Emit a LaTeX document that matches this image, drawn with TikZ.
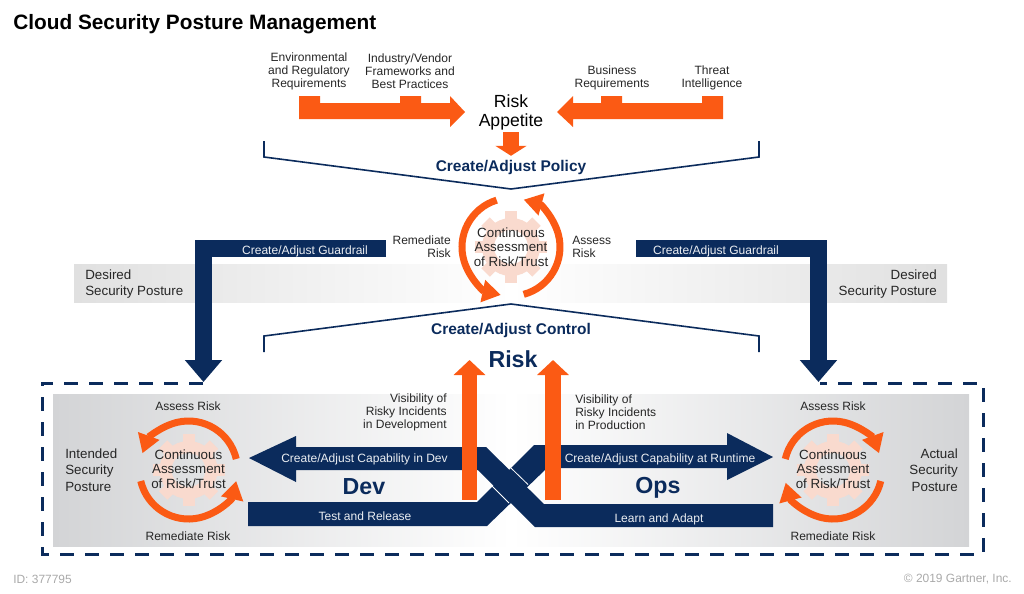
\documentclass[tikz,border=0pt]{standalone}
\usepackage{xcolor}
\usepackage{fontspec}
\setmainfont{Liberation Sans}
\usetikzlibrary{arrows.meta}
\definecolor{gnavy}{HTML}{0B2B5C}
\definecolor{gorange}{HTML}{FB5A14}
\definecolor{gsalmon}{HTML}{F9DACE}
\definecolor{gband}{HTML}{E0E0E0}
\definecolor{gpanel}{HTML}{D3D4D6}
\definecolor{gtext}{HTML}{262626}
\definecolor{gfoot}{HTML}{A9A9A9}
\tikzset{
    gearmark/.pic={
        \draw[gearpart] (0,0) circle (23);
        \foreach \a in {0,45,...,315} \draw[gearpart] (\a:23) -- (\a:36);
    }
}

\begin{document}
\begin{tikzpicture}[
        x=0.025cm, y=-0.025cm,
        every node/.style={font=\fontsize{8.55}{9.3}\selectfont, text=gtext, align=center, inner sep=0pt},
        gearpart/.style={draw=gsalmon, line width=0.3cm},
        bracket/.style={draw=gnavy, line width=0.04cm},
        blockfill/.style={fill=gnavy},
        combfill/.style={fill=gorange},
        barlabel/.style={text=white!92!gnavy},
        headline/.style={font=\bfseries\fontsize{11}{13}\selectfont, text=gnavy},
        bigword/.style={font=\bfseries\fontsize{16.5}{19}\selectfont, text=gnavy},
        cyclelabel/.style={font=\fontsize{9.5}{10.3}\selectfont},
        posture/.style={font=\fontsize{9.5}{11.7}\selectfont},
        footnote/.style={font=\fontsize{8.5}{10}\selectfont, text=gfoot},
        guardflow/.style={draw=gnavy, line width=0.425cm, -{Triangle[length=0.55cm,width=0.9cm]}},
        riskflow/.style={draw=gorange, line width=0.39cm, -{Triangle[length=0.375cm,width=0.775cm]}},
        cyclearc/.style={draw=gorange, line width=0.175cm, -{Triangle[length=0.46cm,width=0.54cm]}}
    ]
        \useasboundingbox (0,0) rectangle (1024,593);

        % Bands
        \shade[left color=gband, right color=white] (74,264) rectangle (511,302);
        \shade[left color=white, right color=gband] (511,264) rectangle (947,302);
        \shade[left color=gpanel, right color=gpanel, middle color=white] (53,394) rectangle (969,546);

        % Top
        \node (title) [anchor=west, font=\bfseries\fontsize{14.8}{17}\selectfont, text=black] at (13,24) {Cloud Security Posture Management};
        \node (environ) at (309,71) {Environmental\\and Regulatory\\Requirements};
        \node (vendor) at (410,71) {Industry/Vendor\\Frameworks and\\Best Practices};
        \node (business) at (612,78) {Business\\Requirements};
        \node (threat) at (712,78) {Threat\\Intelligence};
        \node (appetite) [font=\fontsize{12.5}{13.5}\selectfont, text=black] at (511,112) {Risk\\Appetite};
        \node (policy) [headline] at (511,167.5) {Create/Adjust Policy};

        \fill[combfill] (299,96) -- (320,96) -- (320,103) -- (400,103) -- (400,96) -- (421,96) -- (421,103) -- (450,103) -- (450,96) -- (465,112) -- (450,127) -- (450,119) -- (299,119) -- cycle;
        \fill[combfill] (723,96) -- (702,96) -- (702,103) -- (622,103) -- (622,96) -- (601,96) -- (601,103) -- (573,103) -- (573,96) -- (557,112) -- (573,127) -- (573,119) -- (723,119) -- cycle;
        \draw[bracket] (264,141) -- (264,157) -- (511,189) -- (759,157) -- (759,141);

        % Middle
        \pic (gearmid) at (511,247) {gearmark};
        \node (cyclemid) [cyclelabel] at (511,247) {Continuous\\Assessment\\of Risk/Trust};
        \node (remedmid) [anchor=east, align=right] at (451,246.5) {Remediate\\Risk};
        \node (assessmid) [anchor=west, align=left] at (572,246.5) {Assess\\Risk};
        \draw[cyclearc, shift={(511,247)}, yscale=-1] (107:49) arc (107:258:49);
        \draw[cyclearc, shift={(511,247)}, yscale=-1] (-75:49) arc (-75:75:49);

        \node (desiredl) [anchor=west, align=left, font=\fontsize{9.5}{11.3}\selectfont] at (85,284) {Desired\\Security Posture};
        \node (desiredr) [anchor=east, align=right, font=\fontsize{9.5}{11.3}\selectfont] at (937,284) {Desired\\Security Posture};

        \coordinate (guardlstart) at (386,248.5);
        \coordinate (guardlend) at (203.5,382);
        \coordinate (guardrstart) at (636,248.5);
        \coordinate (guardrend) at (818.5,382);
        \draw[guardflow] (guardlstart) -| (guardlend);
        \draw[guardflow] (guardrstart) -| (guardrend);
        \node (guardl) [barlabel] at (305,251) {Create/Adjust Guardrail};
        \node (guardr) [barlabel] at (716,251) {Create/Adjust Guardrail};

        \draw[bracket] (264,352) -- (264,336) -- (511,304) -- (759,336) -- (759,352);
        \node (control) [headline] at (511,330) {Create/Adjust Control};
        \node (risk) [bigword] at (513,359.5) {Risk};

        % Bottom frame
        \draw[draw=gnavy, line width=0.075cm, dash pattern=on 0.35cm off 0.275cm] (203,383) -- (42,383) -- (42,554) -- (983,554) -- (983,383) -- (820,383);

        % Crossing bars
        \fill[blockfill] (248,502) -- (477,502) -- (534,445) -- (727,445) -- (727,433) -- (773,457) -- (727,480) -- (727,468) -- (547,468) -- (487,526) -- (248,526) -- cycle;
        \fill[blockfill] (249,458) -- (296,436) -- (296,447) -- (486,447) -- (544,504) -- (773,504) -- (773,527) -- (535,527) -- (478,470) -- (296,470) -- (296,482) -- cycle;
        \draw[white, line width=0.02cm] (511,468) -- (528,484.5);
        \draw[white, line width=0.02cm] (492,486) -- (509,503);

        \coordinate (devstart) at (469.5,499.5);
        \coordinate (devend) at (469.5,360);
        \coordinate (opsstart) at (553,499.5);
        \coordinate (opsend) at (553,360);
        \draw[riskflow] (devstart) -- (devend);
        \draw[riskflow] (opsstart) -- (opsend);
        \draw[draw=gorange, line width=0.4cm, -{Triangle[length=0.25cm,width=0.775cm]}, shorten <=1.5pt, shorten >=3pt] (appetite) -- (policy);

        \node (visdev) [anchor=east, align=right] at (447,412) {Visibility of\\Risky Incidents\\in Development};
        \node (visops) [anchor=west, align=left] at (575,412) {Visibility of\\Risky Incidents\\in Production};
        \node (capdev) [barlabel] at (364.5,459) {Create/Adjust Capability in Dev};
        \node (capops) [barlabel] at (660,459) {Create/Adjust Capability at Runtime};
        \node (dev) [bigword] at (364,487) {Dev};
        \node (ops) [bigword] at (658,488) {Ops};
        \node (release) [barlabel] at (365,516) {Test and Release};
        \node (adapt) [barlabel] at (659,519) {Learn and Adapt};

        % Left cycle
        \pic (gearleft) at (188.5,470) {gearmark};
        \node (cycleleft) [cyclelabel] at (188.5,469) {Continuous\\Assessment\\of Risk/Trust};
        \node (assessleft) at (188,406) {Assess Risk};
        \node (remedleft) at (188,536) {Remediate Risk};
        \node (intended) [anchor=west, align=left, posture] at (65,470) {Intended\\Security\\Posture};
        \draw[cyclearc, shift={(188.5,470)}, yscale=-1] (13:49) arc (13:160:49);
        \draw[cyclearc, shift={(188.5,470)}, yscale=-1] (193:49) arc (193:347:49);

        % Right cycle
        \pic (gearright) at (833,470) {gearmark};
        \node (cycleright) [cyclelabel] at (833,469) {Continuous\\Assessment\\of Risk/Trust};
        \node (assessright) at (833,406) {Assess Risk};
        \node (remedright) at (833,536) {Remediate Risk};
        \node (actual) [anchor=east, align=right, posture] at (958,470) {Actual\\Security\\Posture};
        \draw[cyclearc, shift={(833,470)}, yscale=-1] (167:49) arc (167:20:49);
        \draw[cyclearc, shift={(833,470)}, yscale=-1] (347:49) arc (347:195:49);

        % Footer
        \node (docid) [anchor=west, footnote] at (13,579) {ID: 377795};
        \node (rights) [anchor=east, footnote] at (1012,579) {© 2019 Gartner, Inc.};
    \end{tikzpicture}
\end{document}
